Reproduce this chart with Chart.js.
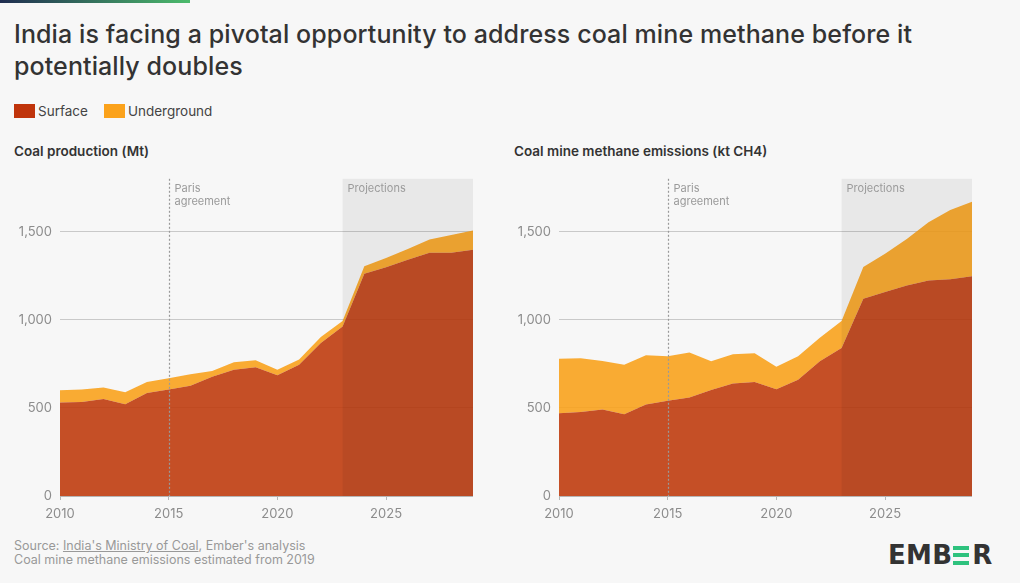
<!DOCTYPE html>
<html>
<head>
<meta charset="utf-8">
<script src="https://cdn.jsdelivr.net/npm/chart.js@4/dist/chart.umd.min.js"></script>
<style>
  body { margin: 0; background: #f7f7f7; font-family: Inter, "Open Sans", sans-serif; color: #333; }
  #page { position: relative; width: 1020px; height: 583px; overflow: hidden; }
  #topbar { position: absolute; left: 0; top: 0; width: 190px; height: 3px; background: linear-gradient(90deg, #1f2d50, #4cbb6c); }
  h1 { position: absolute; left: 14px; top: 18px; margin: 0; width: 925px; font-size: 25px; font-weight: 500; line-height: 32px; color: #333; letter-spacing: 0.1px; }
  #legend { position: absolute; left: 14px; top: 103px; font-size: 13.5px; color: #444; display: flex; align-items: center; }
  #legend .sw { display: inline-block; width: 21px; height: 14px; margin-right: 3px; }
  #legend .item { display: flex; align-items: center; margin-right: 16px; }
  .subtitle { position: absolute; top: 143px; font-size: 13.5px; font-weight: 600; color: #333; }
  .chart-box { position: absolute; top: 163px; width: 473px; height: 357px; }
  #footer { position: absolute; left: 14px; top: 539px; font-size: 12.5px; line-height: 14px; color: #999; }
  #footer a { color: #999; text-decoration: underline; }
  #logo { position: absolute; left: 888px; top: 542px; height: 26px; display: flex; align-items: center; font-family: "DejaVu Sans", sans-serif; font-weight: bold; font-size: 26px; color: #333; letter-spacing: 0.3px; }
  #logo .e { display: inline-flex; flex-direction: column; justify-content: space-between; width: 16px; height: 19px; margin: 0 3px 0 1px; }
  #logo .e div { height: 4px; background: #2ec27e; }
</style>
</head>
<body>
<div id="page">
  <div id="topbar"></div>
  <h1>India is facing a pivotal opportunity to address coal mine methane before it potentially doubles</h1>
  <div id="legend">
    <div class="item"><span class="sw" style="background:#c0340b"></span>Surface</div>
    <div class="item"><span class="sw" style="background:#fba21b"></span>Underground</div>
  </div>

  <div class="subtitle" style="left:14px">Coal production (Mt)</div>
  <div class="subtitle" style="left:514px">Coal mine methane emissions (kt CH4)</div>

  <div class="chart-box" style="left:0px"><canvas id="production-chart"></canvas></div>
  <div class="chart-box" style="left:499px"><canvas id="methane-chart"></canvas></div>

  <div id="footer">
    Source: <a>India's Ministry of Coal</a>, Ember's analysis<br>
    Coal mine methane emissions estimated from 2019
  </div>
  <div id="logo">EMB<span class="e"><div></div><div></div><div></div></span>R</div>
</div>

<script>
// ===============================
// DATA
// ===============================

const years = [2010, 2011, 2012, 2013, 2014, 2015, 2016, 2017, 2018, 2019,
               2020, 2021, 2022, 2023, 2024, 2025, 2026, 2027, 2028, 2029];

// coal production, Mt
const productionSurface = [530, 534, 551, 521, 585, 604, 625, 676, 717, 730,
                           685, 745, 868, 962, 1261, 1298, 1340, 1380, 1381, 1398];
const productionUnderground = [70, 70, 64, 68, 62, 64, 66, 34, 42, 40,
                               32, 29, 34, 31, 43, 53, 62, 75, 100, 108];

// coal mine methane, kt CH4
const methaneSurface = [470, 476, 491, 464, 519, 540, 559, 602, 638, 647,
                        606, 660, 764, 840, 1119, 1157, 1194, 1223, 1230, 1247];
const methaneUnderground = [309, 305, 275, 281, 279, 253, 256, 162, 166, 163,
                            128, 133, 134, 153, 181, 217, 265, 330, 393, 423];

const yTicks = [0, 500, 1000, 1500];
const xTicks = [2010, 2015, 2020, 2025];

const parisYear = 2015;
const projectionStart = 2023;
const projectionEnd = 2029;

// ===============================
// CONFIG
// ===============================

const surfaceColor = "rgba(191, 60, 14, 0.9)";
const undergroundColor = "rgba(248, 162, 29, 0.9)";
const tickColor = "#8c8c8c";

const annotations = {
  id: "annotations",
  afterDatasetsDraw(chart) {
    const { ctx, chartArea, scales } = chart;
    const x = scales.x;

    // projections band drawn over the areas as a faint shade
    const bx1 = x.getPixelForValue(projectionStart);
    const bx2 = x.getPixelForValue(projectionEnd);
    ctx.save();
    ctx.fillStyle = "rgba(0, 0, 0, 0.06)";
    ctx.fillRect(bx1, chartArea.top, bx2 - bx1, chartArea.bottom - chartArea.top);

    ctx.font = "11px Inter, 'Open Sans', sans-serif";
    ctx.fillStyle = "#9a9a9a";
    ctx.textBaseline = "top";
    ctx.fillText("Projections", bx1 + 5, chartArea.top + 4);

    // paris agreement marker
    const px = Math.round(x.getPixelForValue(parisYear)) + 0.5;
    ctx.strokeStyle = "#999";
    ctx.lineWidth = 1.2;
    ctx.setLineDash([2, 2]);
    ctx.beginPath();
    ctx.moveTo(px, chartArea.top);
    ctx.lineTo(px, chartArea.bottom);
    ctx.stroke();
    ctx.setLineDash([]);
    ctx.fillText("Paris", px + 5, chartArea.top + 4);
    ctx.fillText("agreement", px + 5, chartArea.top + 17);
    ctx.restore();
  }
};

function makeChart(canvasId, surface, underground) {
  return new Chart(document.getElementById(canvasId), {
    type: "line",
    data: {
      datasets: [
        {
          label: "Surface",
          data: years.map((yr, i) => ({ x: yr, y: surface[i] })),
          backgroundColor: surfaceColor,
          borderWidth: 0,
          pointRadius: 0,
          fill: "origin"
        },
        {
          label: "Underground",
          data: years.map((yr, i) => ({ x: yr, y: underground[i] })),
          backgroundColor: undergroundColor,
          borderWidth: 0,
          pointRadius: 0,
          fill: "-1"
        }
      ]
    },
    options: {
      responsive: true,
      maintainAspectRatio: false,
      animation: false,
      layout: { padding: 0 },
      plugins: {
        legend: { display: false },
        tooltip: { enabled: false }
      },
      scales: {
        x: {
          type: "linear",
          min: 2010,
          max: 2029,
          afterBuildTicks: scale => { scale.ticks = xTicks.map(v => ({ value: v })); },
          afterFit: scale => { scale.height = 24; },
          grid: { drawOnChartArea: false, drawTicks: true, tickLength: 4, color: "#b5b5b5" },
          border: { color: "#b5b5b5" },
          ticks: {
            color: tickColor,
            font: { size: 13, family: "Inter, 'Open Sans', sans-serif" },
            padding: 6,
            maxRotation: 0,
            callback: v => String(v)
          }
        },
        y: {
          stacked: true,
          min: 0,
          max: 1800,
          afterBuildTicks: scale => { scale.ticks = yTicks.map(v => ({ value: v })); },
          afterFit: scale => { scale.width = 60; },
          grid: { color: "#c9c9c9", drawTicks: false },
          border: { display: false },
          ticks: {
            color: tickColor,
            font: { size: 13, family: "Inter, 'Open Sans', sans-serif" },
            padding: 8,
            callback: v => v.toLocaleString("en-US")
          }
        }
      }
    },
    plugins: [annotations]
  });
}

makeChart("production-chart", productionSurface, productionUnderground);
makeChart("methane-chart", methaneSurface, methaneUnderground);
</script>
</body>
</html>
